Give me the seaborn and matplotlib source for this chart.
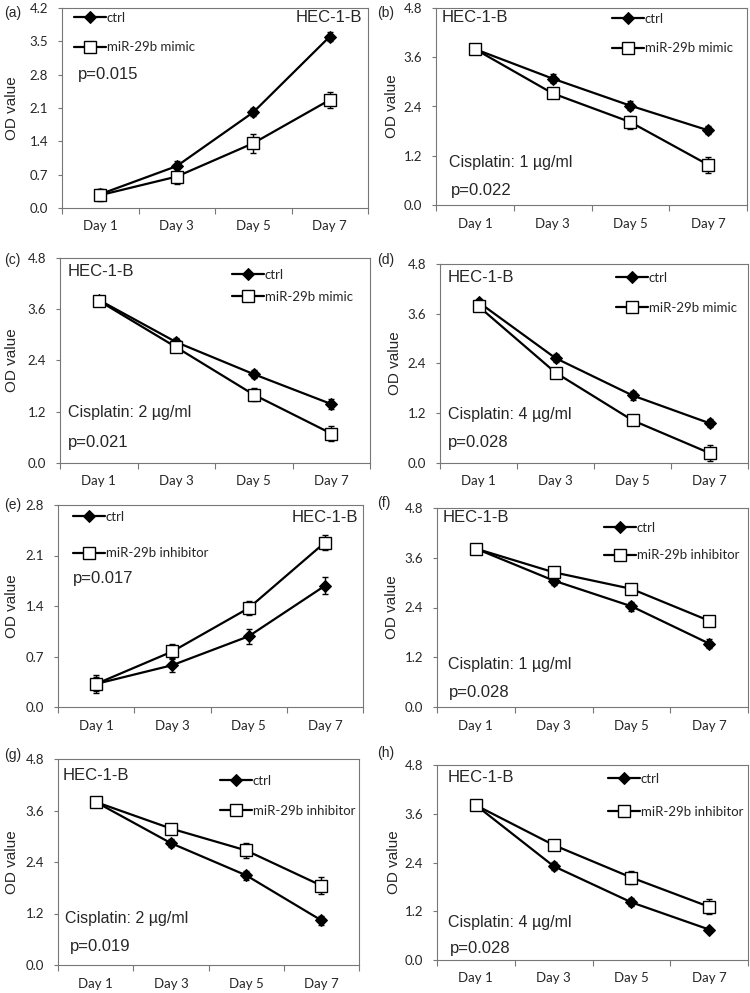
import matplotlib
matplotlib.use("Agg")
import matplotlib.pyplot as plt
import seaborn as sns

sns.set_style("white")
plt.rcParams['font.family'] = ['Liberation Sans', 'DejaVu Sans']

days = ["Day 1", "Day 3", "Day 5", "Day 7"]

# (a) growth, mimic
ctrl_a = [0.29, 0.88, 2.01, 3.60]
ctrl_a_err = [0.10, 0.10, 0.08, 0.09]
trt_a = [0.27, 0.66, 1.36, 2.27]
trt_a_err = [0.12, 0.16, 0.20, 0.17]
# (b) cisplatin 1 ug/ml, mimic
ctrl_b = [3.80, 3.08, 2.42, 1.82]
ctrl_b_err = [0.07, 0.10, 0.11, 0.10]
trt_b = [3.80, 2.72, 2.02, 0.98]
trt_b_err = [0.08, 0.07, 0.16, 0.19]
# (c) cisplatin 2 ug/ml, mimic
ctrl_c = [3.82, 2.83, 2.08, 1.38]
ctrl_c_err = [0.07, 0.10, 0.10, 0.11]
trt_c = [3.80, 2.71, 1.60, 0.69]
trt_c_err = [0.08, 0.08, 0.16, 0.17]
# (d) cisplatin 4 ug/ml, mimic
ctrl_d = [3.88, 2.53, 1.63, 0.96]
ctrl_d_err = [0.07, 0.10, 0.10, 0.10]
trt_d = [3.78, 2.18, 1.03, 0.24]
trt_d_err = [0.08, 0.07, 0.08, 0.20]
# (e) growth, inhibitor
ctrl_e = [0.32, 0.58, 0.98, 1.68]
ctrl_e_err = [0.10, 0.10, 0.10, 0.12]
trt_e = [0.32, 0.77, 1.37, 2.28]
trt_e_err = [0.13, 0.10, 0.10, 0.10]
# (f) cisplatin 1 ug/ml, inhibitor
ctrl_f = [3.82, 3.05, 2.43, 1.53]
ctrl_f_err = [0.08, 0.10, 0.11, 0.10]
trt_f = [3.82, 3.25, 2.85, 2.08]
trt_f_err = [0.08, 0.08, 0.10, 0.10]
# (g) cisplatin 2 ug/ml, inhibitor
ctrl_g = [3.80, 2.84, 2.09, 1.04]
ctrl_g_err = [0.08, 0.10, 0.10, 0.10]
trt_g = [3.80, 3.18, 2.67, 1.85]
trt_g_err = [0.08, 0.10, 0.18, 0.20]
# (h) cisplatin 4 ug/ml, inhibitor
ctrl_h = [3.81, 2.31, 1.42, 0.75]
ctrl_h_err = [0.05, 0.10, 0.10, 0.03]
trt_h = [3.81, 2.83, 2.03, 1.31]
trt_h_err = [0.08, 0.05, 0.16, 0.18]

p_values = ["p=0.015", "p=0.022", "p=0.021", "p=0.028",
            "p=0.017", "p=0.028", "p=0.019", "p=0.028"]
doses = [None, "Cisplatin: 1 µg/ml", "Cisplatin: 2 µg/ml", "Cisplatin: 4 µg/ml",
         None, "Cisplatin: 1 µg/ml", "Cisplatin: 2 µg/ml", "Cisplatin: 4 µg/ml"]
treat_names = ["miR-29b mimic"] * 4 + ["miR-29b inhibitor"] * 4
y_max = [4.2, 4.8, 4.8, 4.8, 2.8, 4.8, 4.8, 4.8]
y_step = [0.7, 1.2, 1.2, 1.2, 0.7, 1.2, 1.2, 1.2]

ctrl_all = [ctrl_a, ctrl_b, ctrl_c, ctrl_d, ctrl_e, ctrl_f, ctrl_g, ctrl_h]
ctrl_err_all = [ctrl_a_err, ctrl_b_err, ctrl_c_err, ctrl_d_err,
                ctrl_e_err, ctrl_f_err, ctrl_g_err, ctrl_h_err]
trt_all = [trt_a, trt_b, trt_c, trt_d, trt_e, trt_f, trt_g, trt_h]
trt_err_all = [trt_a_err, trt_b_err, trt_c_err, trt_d_err,
               trt_e_err, trt_f_err, trt_g_err, trt_h_err]

W, H = 750, 993
fig = plt.figure(figsize=(7.5, 9.93), dpi=100)


def fx(px):
    return px / W


def fy(py):
    return 1 - py / H


# layout in pixels: left, top, right, bottom
boxes = [(62, 8, 368, 208), (436, 8, 747, 205),
         (60, 258, 370, 463), (440, 264, 748, 463),
         (58, 505, 363, 707), (437, 508, 748, 707),
         (58, 759, 359, 965), (437, 765, 748, 960)]
letter_pos = [(4, 13), (377, 13), (4, 260), (377, 260),
              (4, 505), (377, 503), (4, 755), (377, 753)]
ylabel_x = [19, 399, 19, 402, 19, 399, 19, 401]
legend_pos = [(74, 12), (612, 13), (232, 269), (616, 272),
              (73, 511), (604, 522), (220, 775), (608, 773)]
legend_gap = [1.3, 1.3, 0.75, 1.35, 1.85, 1.15, 1.35, 1.6]
hec_pos = [(362, 18, "right"), (442, 18, "left"), (68, 272, "left"), (448, 278, "left"),
           (358, 517, "right"), (443, 518, "left"), (63, 775, "left"), (448, 778, "left")]
dose_pos = [None, (449, 163), (68, 413), (448, 414), None, (448, 665), (65, 918), (448, 923)]
p_pos = [(78, 74), (451, 190), (68, 442), (448, 442),
         (73, 578), (449, 692), (70, 946), (450, 948)]

xpos = list(range(len(days)))
frame_color = "#777777"

for i in range(8):
    l, t, r, b = boxes[i]
    ax = fig.add_axes([fx(l), fy(b), fx(r) - fx(l), fy(t) - fy(b)])

    ax.errorbar(xpos, ctrl_all[i], yerr=ctrl_err_all[i], fmt='none', ecolor='black',
                elinewidth=1, capsize=2.5, capthick=1, zorder=1)
    ax.errorbar(xpos, trt_all[i], yerr=trt_err_all[i], fmt='none', ecolor='black',
                elinewidth=1, capsize=2.5, capthick=1, zorder=1)
    sns.lineplot(x=xpos, y=ctrl_all[i], ax=ax, color='black', lw=1.6, marker='D',
                 markersize=6, markerfacecolor='black', markeredgecolor='black',
                 label='ctrl', zorder=3)
    sns.lineplot(x=xpos, y=trt_all[i], ax=ax, color='black', lw=1.6, marker='s',
                 markersize=8.5, markerfacecolor='white', markeredgecolor='black',
                 markeredgewidth=1, label=treat_names[i], zorder=3)

    ax.set_xlim(-0.5, 3.5)
    ax.set_ylim(0, y_max[i])
    n = int(round(y_max[i] / y_step[i]))
    ticks = [k * y_step[i] for k in range(n + 1)]
    ax.set_yticks(ticks)
    ax.set_yticklabels([f"{v:.1f}" for v in ticks], family='Lato', fontsize=9.5)
    ax.set_xticks(xpos)
    ax.set_xticklabels(days, family='Lato', fontsize=9.5)
    ax.set_xticks([-0.5, 0.5, 1.5, 2.5, 3.5], minor=True)
    ax.tick_params(axis='x', which='major', length=0, pad=9)
    ax.tick_params(axis='x', which='minor', length=4, direction='out',
                   color=frame_color, width=0.8, bottom=True)
    ax.tick_params(axis='y', length=3, direction='out', color=frame_color,
                   width=0.8, pad=7, left=True)
    for sp in ax.spines.values():
        sp.set_color(frame_color)
        sp.set_linewidth(0.8)

    ax.set_ylabel("OD value", fontsize=11)
    ax.yaxis.set_label_coords(fx(ylabel_x[i]), fy((t + b) / 2), transform=fig.transFigure)

    lx, ly = legend_pos[i]
    ax.legend(loc='upper left', bbox_to_anchor=(fx(lx), fy(ly)),
              bbox_transform=fig.transFigure, frameon=False, borderpad=0,
              borderaxespad=0, handlelength=2.4, handletextpad=0.1,
              labelspacing=legend_gap[i], prop={'family': 'Lato', 'size': 9.5})

    hx, hy, ha = hec_pos[i]
    fig.text(fx(hx), fy(hy), "HEC-1-B", fontsize=12, ha=ha, va='center')
    if doses[i] is not None:
        dx, dy = dose_pos[i]
        fig.text(fx(dx), fy(dy), doses[i], fontsize=11.5, ha='left', va='center')
    px_, py_ = p_pos[i]
    fig.text(fx(px_), fy(py_), p_values[i], fontsize=12, ha='left', va='center')

    lx2, ly2 = letter_pos[i]
    fig.text(fx(lx2), fy(ly2), f"({'abcdefgh'[i]})", fontsize=10, ha='left', va='center')

fig.savefig("out.png", dpi=100, facecolor='white')
